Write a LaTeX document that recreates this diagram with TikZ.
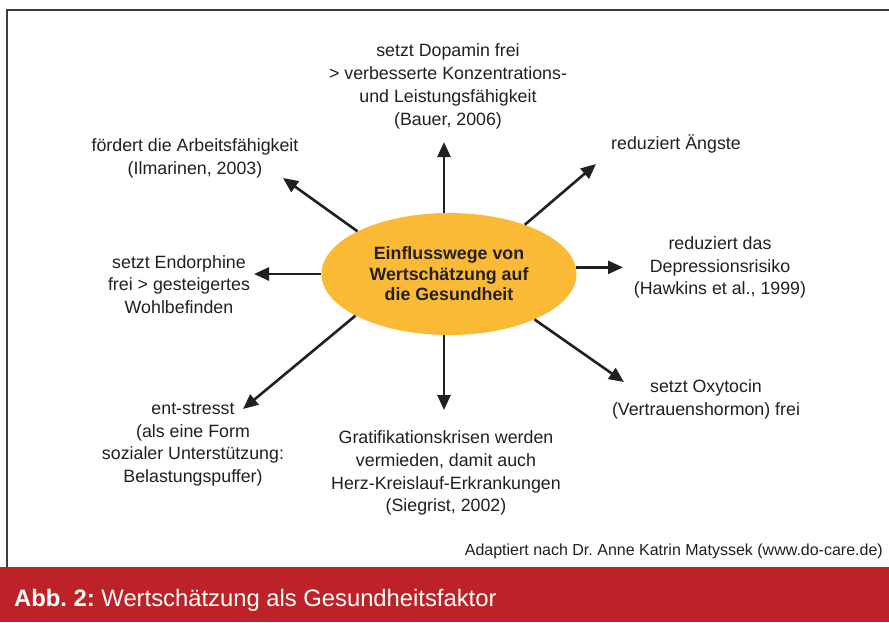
\documentclass[tikz,border=0pt]{standalone}
\usepackage{fontspec}
\setmainfont{Liberation Sans}
\usetikzlibrary{arrows.meta,shapes.geometric}
\definecolor{txt}{HTML}{231F20}
\definecolor{ell}{HTML}{FBBA35}
\definecolor{capred}{HTML}{BE2229}
\definecolor{frm}{HTML}{3C3C3C}
\frenchspacing
\begin{document}
\begin{tikzpicture}[x=1pt,y=-1pt,
  arr/.style={line width=2.6pt, draw=txt, -{Triangle[length=15pt,width=13pt]}},
  lbl/.style={align=center, text=txt, inner sep=0pt, font=\fontsize{17.8}{22.8}\selectfont},
  frame/.style={draw=frm, line width=1.6pt},
]
\useasboundingbox (0,0) rectangle (889,622);
\fill[white] (0,0) rectangle (889,622);
\draw[frame] (7,567) -- (7,10) -- (889,10);
\fill[capred] (0,567) rectangle (889,622);

% central ellipse
\node[ellipse, fill=ell, minimum width=255pt, minimum height=122pt, inner sep=0pt,
      align=center, text=txt, font=\bfseries\fontsize{17.8}{20.6}\selectfont]
      (E) at (449,274) {Einflusswege von\\Wertschätzung auf\\die Gesundheit};

% arrow tips
\coordinate (tU)  at (444,142);
\coordinate (tUL) at (283,178);
\coordinate (tL)  at (254,274);
\coordinate (tUR) at (596,164);
\coordinate (tR)  at (623,267);
\coordinate (tDR) at (624,382);
\coordinate (tD)  at (444,410);
\coordinate (tDL) at (243,409);

\draw[arr] (E.north -| tU) -- (tU);
\draw[arr] (E.155.8) -- (tUL);
\draw[arr] (E.west) -- (tL);
\draw[arr] (E.33.7) -- (tUR);
\draw[arr] (E.3.3) -- (E.3.3 -| tR);
\draw[arr] (E.-28.4) -- (tDR);
\draw[arr] (E.south -| tD) -- (tD);
\draw[arr] (E.204.7) -- (tDL);

% labels
\node[lbl] (lU)  at (448,86.5) {setzt Dopamin frei\\> verbesserte Konzentrations-\\und Leistungsfähigkeit\\(Bauer, 2006)};
\node[lbl] (lUL) at (195,158.5) {fördert die Arbeitsfähigkeit\\(Ilmarinen, 2003)};
\node[lbl] (lUR) at (676,144) {reduziert Ängste};
\node[lbl] (lL)  at (179,284.5) {setzt Endorphine\\frei > gesteigertes\\Wohlbefinden};
\node[lbl] (lR)  at (720,267.5) {reduziert das\\Depressionsrisiko\\(Hawkins et al., 1999)};
\node[lbl] (lDR) at (706,399) {setzt Oxytocin\\(Vertrauenshormon) frei};
\node[lbl] (lD)  at (446,473) {Gratifikationskrisen werden\\vermieden, damit auch\\Herz-Kreislauf-Erkrankungen\\(Siegrist, 2002)};
\node[lbl] (lDL) at (193,444.5) {ent-stresst\\(als eine Form\\sozialer Unterstützung:\\Belastungspuffer)};

% credit and caption
\node[anchor=base east, text=txt, inner sep=0pt, font=\fontsize{16}{18}\selectfont]
  (cred) at (883,555) {Adaptiert nach Dr.\ Anne Katrin Matyssek (www.do-care.de)};
\node[anchor=base west, text=white, inner sep=0pt, font=\fontsize{23.8}{26}\selectfont]
  (cap) at (14,606) {\textbf{Abb. 2:} Wertschätzung als Gesundheitsfaktor};
\end{tikzpicture}
\end{document}
